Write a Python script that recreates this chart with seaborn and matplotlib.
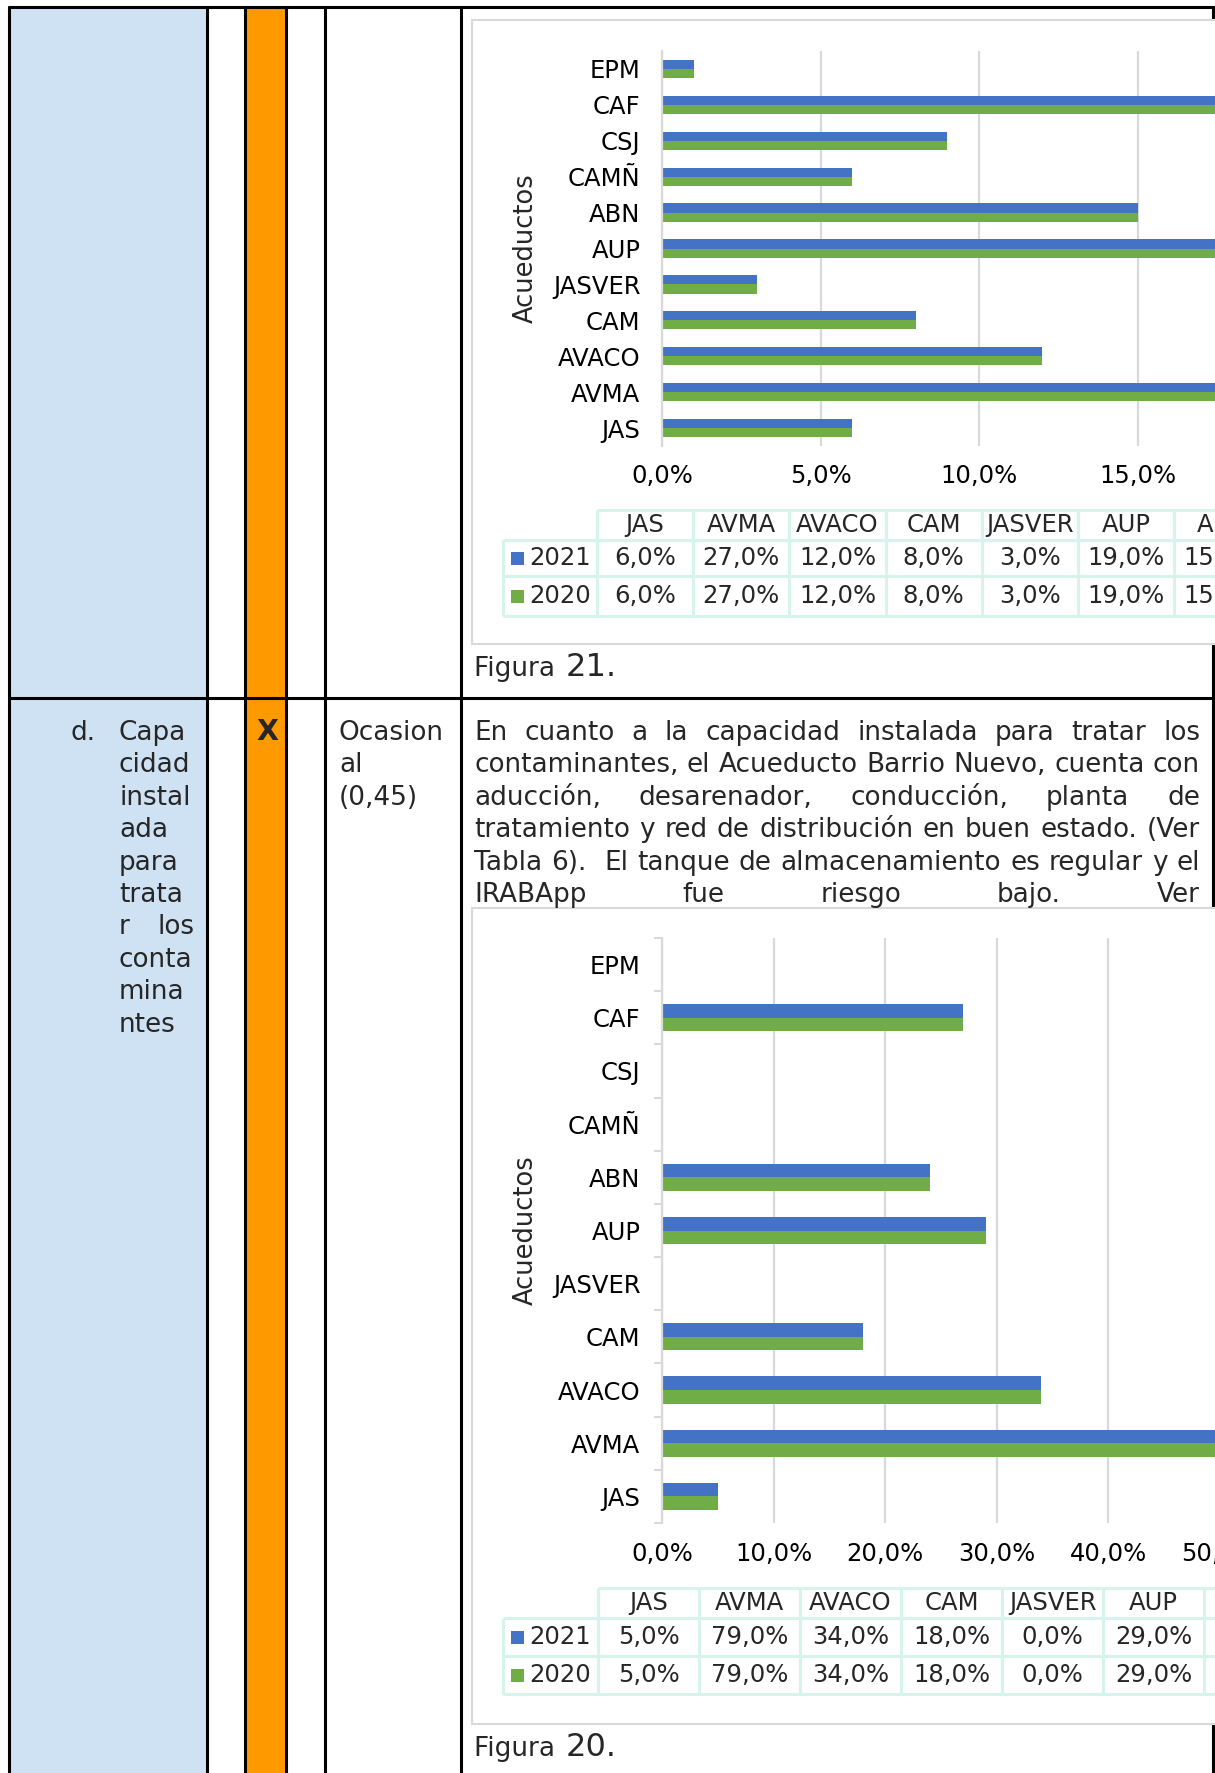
import numpy as np
import pandas as pd
import matplotlib
matplotlib.use('Agg')
import matplotlib.pyplot as plt
import seaborn as sns
from matplotlib.patches import Rectangle
from matplotlib.font_manager import FontProperties
from matplotlib.ticker import FuncFormatter

# Aqueducts in Excel order (bottom to top of the bar chart, left to right in the data table)
acueductos = ['JAS', 'AVMA', 'AVACO', 'CAM', 'JASVER', 'AUP', 'ABN', 'CAMÑ', 'CSJ', 'CAF', 'EPM']
anios = ['2021', '2020']

# Figura 21 values (%)
fig21_2021 = [6, 27, 12, 8, 3, 19, 15, 6, 9, 22, 1]
fig21_2020 = [6, 27, 12, 8, 3, 19, 15, 6, 9, 22, 1]
fig21_ticks = [0, 5, 10, 15, 20, 25, 30]

# Figura 20 values (%)
fig20_2021 = [5, 79, 34, 18, 0, 29, 24, 0, 0, 27, 0]
fig20_2020 = [5, 79, 34, 18, 0, 29, 24, 0, 0, 27, 0]
fig20_ticks = [0, 10, 20, 30, 40, 50, 60, 70, 80, 90]

criterio = ['Capa', 'cidad', 'instal', 'ada', 'para', 'trata', 'r los', 'conta', 'mina', 'ntes']
frecuencia = ['Ocasion', 'al', '(0,45)']
parrafo = [
    'En cuanto a la capacidad instalada para tratar los',
    'contaminantes, el Acueducto Barrio Nuevo, cuenta con',
    'aducción, desarenador, conducción, planta de',
    'tratamiento y red de distribución en buen estado. (Ver',
    'Tabla 6).  El tanque de almacenamiento es regular y el',
    'IRABApp fue riesgo bajo. Ver',
]

BLUE = '#4472C4'
GREEN = '#70AD47'
GRID = '#D9D9D9'
MINT = '#D6F3EC'
CELL_BLUE = '#CFE2F3'
ORANGE = '#FF9900'

W, H = 1215, 1773
BODY = 18.9
CHART = 17.5

sns.set_style('white')
plt.rcParams['font.family'] = ['DejaVu Sans']

fig = plt.figure(figsize=(W / 100, H / 100), dpi=100)
bg = fig.add_axes([0, 0, 1, 1], zorder=0)
bg.set_xlim(0, W)
bg.set_ylim(H, 0)
bg.axis('off')
renderer = fig.canvas.get_renderer()


def text_width(s, size, weight='normal'):
    fp = FontProperties(family='DejaVu Sans', size=size, weight=weight)
    w, h, d = renderer.get_text_width_height_descent(s, fp, ismath=False)
    return w


def justify(line, x0, x1, y, size):
    words = line.split(' ')
    if len(words) == 1:
        bg.text(x0, y, line, fontsize=size, ha='left', va='baseline', zorder=5)
        return
    widths = [text_width(w, size) if w else 0 for w in words]
    gap = (x1 - x0 - sum(widths)) / (len(words) - 1)
    x = x0
    for w, wd in zip(words, widths):
        if w:
            bg.text(x, y, w, fontsize=size, ha='left', va='baseline', zorder=5)
        x += wd + gap


# --- document table ---
bg.add_patch(Rectangle((9, 7), 198, H, facecolor=CELL_BLUE, edgecolor='none', zorder=1))
bg.add_patch(Rectangle((245, 7), 41, H, facecolor=ORANGE, edgecolor='none', zorder=1))
for x in [9, 207, 245, 286, 325, 461, 1213]:
    bg.plot([x, x], [6, H], color='black', lw=2.2, zorder=2, solid_capstyle='butt')
for y in [7, 698]:
    bg.plot([8, W], [y, y], color='black', lw=2.2, zorder=2, solid_capstyle='butt')

# row "d." text
line_h = 32.4
base0 = 740
bg.text(71, base0, 'd.', fontsize=BODY, ha='left', va='baseline', zorder=5)
for i, ln in enumerate(criterio):
    justify(ln, 119, 194, base0 + i * line_h, BODY)
bg.text(267, base0, 'X', fontsize=20.5, fontweight='bold', ha='center', va='baseline', zorder=5)
for i, ln in enumerate(frecuencia):
    bg.text(339, base0 + i * line_h, ln, fontsize=BODY, ha='left', va='baseline', zorder=5)
for i, ln in enumerate(parrafo):
    justify(ln, 474, 1200, base0 + i * line_h, BODY)


def pct(v):
    return f'{v:.1f}%'.replace('.', ',')


def draw_chart(v21, v20, xmax, ppu, y_top, y_bot, ticks, tick_pad, box, table, fig_num, minor_ticks):
    # chart frame
    bx_top, bx_bot = box
    bg.add_patch(Rectangle((472, bx_top), 1000, bx_bot - bx_top, facecolor='white',
                           edgecolor=GRID, lw=1.5, zorder=3))

    x0 = 662
    ax = fig.add_axes([x0 / W, 1 - y_bot / H, xmax * ppu / W, (y_bot - y_top) / H], zorder=2)
    ax.set_facecolor('none')
    df = pd.DataFrame({
        'acueducto': acueductos * 2,
        'anio': [anios[0]] * len(acueductos) + [anios[1]] * len(acueductos),
        'valor': v21 + v20,
    })
    sns.barplot(data=df, x='valor', y='acueducto', hue='anio', order=acueductos[::-1],
                hue_order=anios, palette=[BLUE, GREEN], width=0.51, saturation=1,
                orient='h', ax=ax, legend=False, linewidth=0, errorbar=None)
    ax.set_xlim(0, xmax)
    ax.set_xticks(ticks)
    ax.xaxis.set_major_formatter(FuncFormatter(lambda v, p: pct(v)))
    ax.set_axisbelow(True)
    ax.xaxis.grid(True, color=GRID, lw=1.6)
    ax.yaxis.grid(False)
    for s in ['top', 'right', 'bottom']:
        ax.spines[s].set_visible(False)
    ax.spines['left'].set_color(GRID)
    ax.spines['left'].set_linewidth(1.6)
    ax.set_xlabel('')
    ax.set_ylabel('')
    ax.tick_params(axis='x', length=0, pad=tick_pad, labelsize=CHART, colors='black')
    ax.tick_params(axis='y', which='major', length=0, pad=15.5, labelsize=CHART, colors='black')
    if minor_ticks:
        ax.set_yticks(np.arange(-0.5, len(acueductos)), minor=True)
        ax.tick_params(axis='y', which='minor', length=6, width=1.5, color=GRID, left=True)

    fig.text(526 / W, 1 - (y_top + y_bot) / 2 / H, 'Acueductos', rotation=90,
             fontsize=18.5, ha='center', va='center')

    # data table below the chart
    col_x0, col_w, t_top, t_hdr, t_r1, t_r2 = table
    leg_x = 503
    n = len(acueductos)
    x_end = col_x0 + n * col_w
    kw = dict(color=MINT, lw=2.2, zorder=4, solid_capstyle='butt')
    bg.plot([col_x0, x_end], [t_top, t_top], **kw)
    for y in [t_hdr, t_r1, t_r2]:
        bg.plot([leg_x, x_end], [y, y], **kw)
    bg.plot([leg_x, leg_x], [t_hdr, t_r2], **kw)
    for k in range(n + 1):
        xx = col_x0 + k * col_w
        bg.plot([xx, xx], [t_top, t_r2], **kw)
    for k, name in enumerate(acueductos):
        cx = col_x0 + (k + 0.5) * col_w
        bg.text(cx, (t_top + t_hdr) / 2, name, fontsize=CHART, ha='center', va='center', zorder=5)
        bg.text(cx, (t_hdr + t_r1) / 2, pct(v21[k]), fontsize=CHART, ha='center', va='center', zorder=5)
        bg.text(cx, (t_r1 + t_r2) / 2, pct(v20[k]), fontsize=CHART, ha='center', va='center', zorder=5)
    for (ya, yb), year, col in [((t_hdr, t_r1), anios[0], BLUE), ((t_r1, t_r2), anios[1], GREEN)]:
        cy = (ya + yb) / 2
        bg.add_patch(Rectangle((511, cy - 6.5), 13, 13, facecolor=col, edgecolor='none', zorder=5))
        bg.text(529, cy, year, fontsize=CHART, ha='left', va='center', zorder=5)

    # caption
    base = bx_bot + 32
    bg.text(474, base, 'Figura ', fontsize=BODY, ha='left', va='baseline', zorder=5)
    wf = text_width('Figura ', BODY)
    bg.text(474 + wf + 2, base, fig_num + '.', fontsize=23, ha='left', va='baseline', zorder=5)
    return ax


draw_chart(fig21_2021, fig21_2020, 30, 31.7, 51, 446, fig21_ticks, 13,
           (20, 644), (597, 96.2, 510, 540, 576, 616), '21', False)
draw_chart(fig20_2021, fig20_2020, 90, 11.16, 938, 1523, fig20_ticks, 14,
           (908, 1724), (598, 101, 1588, 1618, 1656, 1694), '20', True)

fig.savefig('out.png', dpi=100)
